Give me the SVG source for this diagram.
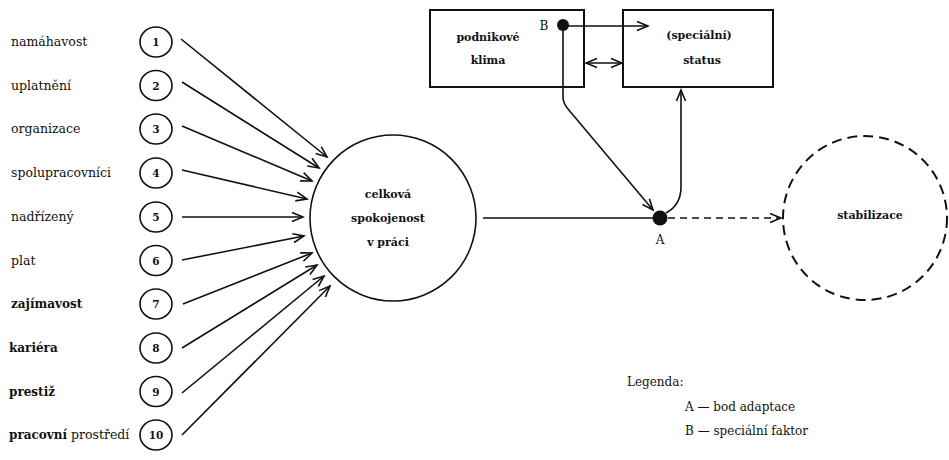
<svg xmlns="http://www.w3.org/2000/svg" width="949" height="460" viewBox="0 0 949 460">
<style>
.lbl{font-family:"DejaVu Serif","Liberation Serif",serif;font-size:12.5px;fill:#111}
.lblb{font-family:"DejaVu Serif","Liberation Serif",serif;font-size:12px;font-weight:bold;fill:#111}
.num{font-family:"DejaVu Serif","Liberation Serif",serif;font-size:10.5px;font-weight:bold;fill:#111;text-anchor:middle}
.bold{font-family:"DejaVu Serif","Liberation Serif",serif;font-size:11px;font-weight:bold;fill:#111;text-anchor:middle}
.leg{font-family:"DejaVu Serif","Liberation Serif",serif;font-size:12px;fill:#111}
.sc{fill:#fff;stroke:#111;stroke-width:1.6}
.ln{fill:none;stroke:#111;stroke-width:1.6}
.box{fill:#fff;stroke:#111;stroke-width:2}
</style>
<defs>
<marker id="ah" markerUnits="userSpaceOnUse" markerWidth="14" markerHeight="12" refX="12" refY="6" orient="auto-start-reverse">
<path d="M1,1.5 L12,6 L1,10.5" fill="none" stroke="#111" stroke-width="1.6"/>
</marker>
</defs>

<g id="label-nodes">
<g id="n1"><text class="lbl" x="11" y="46">namáhavost</text><ellipse class="sc" cx="156" cy="42" rx="16" ry="15"/><text class="num" x="156" y="46">1</text></g>
<g id="n2"><text class="lbl" x="11" y="89.5">uplatnění</text><ellipse class="sc" cx="156" cy="85.5" rx="16" ry="15"/><text class="num" x="156" y="89.5">2</text></g>
<g id="n3"><text class="lbl" x="11" y="133">organizace</text><ellipse class="sc" cx="156" cy="129" rx="16" ry="15"/><text class="num" x="156" y="133">3</text></g>
<g id="n4"><text class="lbl" x="11" y="177">spolupracovníci</text><ellipse class="sc" cx="156" cy="173" rx="16" ry="15"/><text class="num" x="156" y="177">4</text></g>
<g id="n5"><text class="lbl" x="11" y="221">nadřízený</text><ellipse class="sc" cx="156" cy="217" rx="16" ry="15"/><text class="num" x="156" y="221">5</text></g>
<g id="n6"><text class="lbl" x="11" y="264.5">plat</text><ellipse class="sc" cx="156" cy="260.5" rx="16" ry="15"/><text class="num" x="156" y="264.5">6</text></g>
<g id="n7"><text class="lblb" x="11" y="308">zajímavost</text><ellipse class="sc" cx="156" cy="304" rx="16" ry="15"/><text class="num" x="156" y="308">7</text></g>
<g id="n8"><text class="lblb" x="9" y="352">kariéra</text><ellipse class="sc" cx="156" cy="348" rx="16" ry="15"/><text class="num" x="156" y="352">8</text></g>
<g id="n9"><text class="lblb" x="9" y="395.5">prestiž</text><ellipse class="sc" cx="156" cy="391.5" rx="16" ry="15"/><text class="num" x="156" y="395.5">9</text></g>
<g id="n10"><text class="lbl" x="9" y="439"><tspan font-weight="bold" font-size="12">pracovní</tspan> prostředí</text><ellipse class="sc" cx="156" cy="435" rx="16" ry="15"/><text class="num" x="156" y="439">10</text></g>
</g>

<g id="main">
<circle class="sc" cx="393" cy="218" r="83"/>
<text class="bold" x="388" y="198">celková</text>
<text class="bold" x="388" y="222">spokojenost</text>
<text class="bold" x="388" y="246">v práci</text>
</g>

<g id="klima">
<rect class="box" x="430" y="10" width="154" height="77"/>
<text class="bold" x="488" y="41">podnikové</text>
<text class="bold" x="488" y="64">klima</text>
</g>

<g id="status">
<rect class="box" x="623" y="10" width="150" height="77"/>
<text class="bold" x="699" y="39">(speciální)</text>
<text class="bold" x="702" y="64">status</text>
</g>

<g id="stabilizace">
<circle cx="865" cy="218" r="82" fill="none" stroke="#111" stroke-width="2" stroke-dasharray="10 6"/>
<text class="bold" x="870" y="219">stabilizace</text>
</g>

<g id="connectors">
<line class="ln" x1="181" y1="39" x2="327" y2="157" marker-end="url(#ah)"/>
<line class="ln" x1="182" y1="82" x2="319" y2="168" marker-end="url(#ah)"/>
<line class="ln" x1="182" y1="126" x2="312" y2="181" marker-end="url(#ah)"/>
<line class="ln" x1="182" y1="170" x2="307" y2="199" marker-end="url(#ah)"/>
<line class="ln" x1="182" y1="217" x2="303" y2="217" marker-end="url(#ah)"/>
<line class="ln" x1="182" y1="260" x2="304" y2="236" marker-end="url(#ah)"/>
<line class="ln" x1="183" y1="304" x2="312" y2="253" marker-end="url(#ah)"/>
<line class="ln" x1="182" y1="348" x2="317" y2="265" marker-end="url(#ah)"/>
<line class="ln" x1="182" y1="393" x2="324" y2="276" marker-end="url(#ah)"/>
<line class="ln" x1="182" y1="435" x2="330" y2="286" marker-end="url(#ah)"/>
<line class="ln" x1="483" y1="218" x2="655" y2="218"/>
<line class="ln" x1="668" y1="218" x2="781" y2="218" stroke-dasharray="7 5" marker-end="url(#ah)"/>
<path class="ln" d="M563,25 L563,97 Q563,103 568,109 L653,210" marker-end="url(#ah)"/>
<path class="ln" d="M666,213 Q681,205 681,187 L681,90" marker-end="url(#ah)"/>
<line class="ln" x1="563" y1="26" x2="648" y2="26" marker-end="url(#ah)"/>
<line class="ln" x1="586" y1="63" x2="622" y2="63" marker-start="url(#ah)" marker-end="url(#ah)"/>
</g>

<g id="points">
<circle cx="660" cy="218" r="7.5" fill="#111"/>
<text class="leg" x="660" y="244" text-anchor="middle">A</text>
<circle cx="563" cy="25" r="6" fill="#111"/>
<text class="leg" x="544" y="30" text-anchor="middle">B</text>
</g>

<g id="legend">
<text class="leg" x="627" y="386">Legenda:</text>
<text class="leg" x="685" y="411">A — bod adaptace</text>
<text class="leg" x="685" y="435">B — speciální faktor</text>
</g>
</svg>
